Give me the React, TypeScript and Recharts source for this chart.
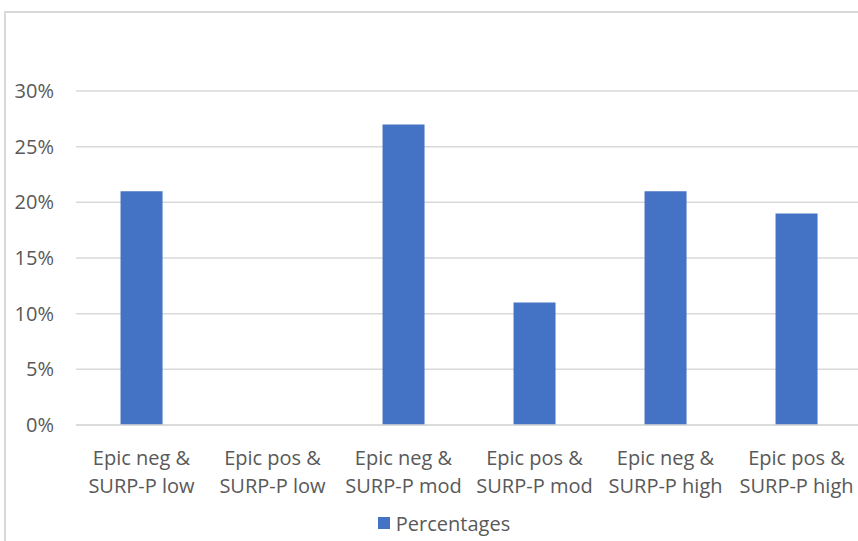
import React from 'react';
import { BarChart, Bar, XAxis, YAxis, CartesianGrid, Legend } from 'recharts';

const categories = [
  'Epic neg & SURP-P low',
  'Epic pos & SURP-P low',
  'Epic neg & SURP-P mod',
  'Epic pos & SURP-P mod',
  'Epic neg & SURP-P high',
  'Epic pos & SURP-P high',
];
const percentages = [21, 0, 27, 11, 21, 19];
const yTicks = [0, 5, 10, 15, 20, 25, 30];

const data = categories.map((name, i) => ({ name, Percentages: percentages[i] }));

const BAR = '#4472C4';
const GRID = '#d9d9d9';
const TEXT = '#595959';
const FONT = '"Open Sans", sans-serif';

// two-line category label, split after the ampersand
const CategoryTick = (props: any) => {
  const { x, y, payload } = props;
  const [first, second] = String(payload.value).split('& ');
  return (
    <text x={x} y={y} textAnchor="middle" fill={TEXT} fontSize={20} fontFamily={FONT}>
      <tspan x={x} dy={32}>{first + '&'}</tspan>
      <tspan x={x} dy={28}>{second}</tspan>
    </text>
  );
};

const LegendContent = () => (
  <div
    style={{
      display: 'flex',
      justifyContent: 'center',
      alignItems: 'center',
      height: 36,
      paddingLeft: 26,
      fontFamily: FONT,
      fontSize: 20,
      color: TEXT,
    }}
  >
    <span style={{ width: 12, height: 12, background: BAR, marginRight: 6, display: 'inline-block' }} />
    <span>Percentages</span>
  </div>
);

export default function App() {
  return (
    <div
      style={{
        position: 'absolute',
        left: 0,
        top: 0,
        width: 858,
        height: 541,
        overflow: 'hidden',
        background: '#fff',
      }}
    >
      <div
        style={{
          position: 'absolute',
          left: 4,
          top: 11,
          width: 1000,
          height: 1000,
          borderLeft: `2px solid ${GRID}`,
          borderTop: `2px solid ${GRID}`,
        }}
      />
      <div style={{ position: 'absolute', left: 0, top: 0 }}>
        <BarChart
          width={870}
          height={541}
          data={data}
          margin={{ top: 91, right: 8, left: 0, bottom: 0 }}
          barCategoryGap="34%"
        >
          <CartesianGrid vertical={false} stroke={GRID} strokeWidth={1.5} />
          <XAxis
            dataKey="name"
            height={80}
            axisLine={{ stroke: GRID, strokeWidth: 1.5 }}
            tickLine={false}
            tick={<CategoryTick />}
            interval={0}
          />
          <YAxis
            width={76}
            domain={[0, 30]}
            ticks={yTicks}
            axisLine={false}
            tickLine={false}
            tickMargin={16}
            tickFormatter={(v: number) => `${v}%`}
            tick={{ fill: TEXT, fontSize: 20, fontFamily: FONT }}
          />
          <Legend verticalAlign="bottom" height={36} content={<LegendContent />} />
          <Bar dataKey="Percentages" fill={BAR} isAnimationActive={false} />
        </BarChart>
      </div>
    </div>
  );
}
